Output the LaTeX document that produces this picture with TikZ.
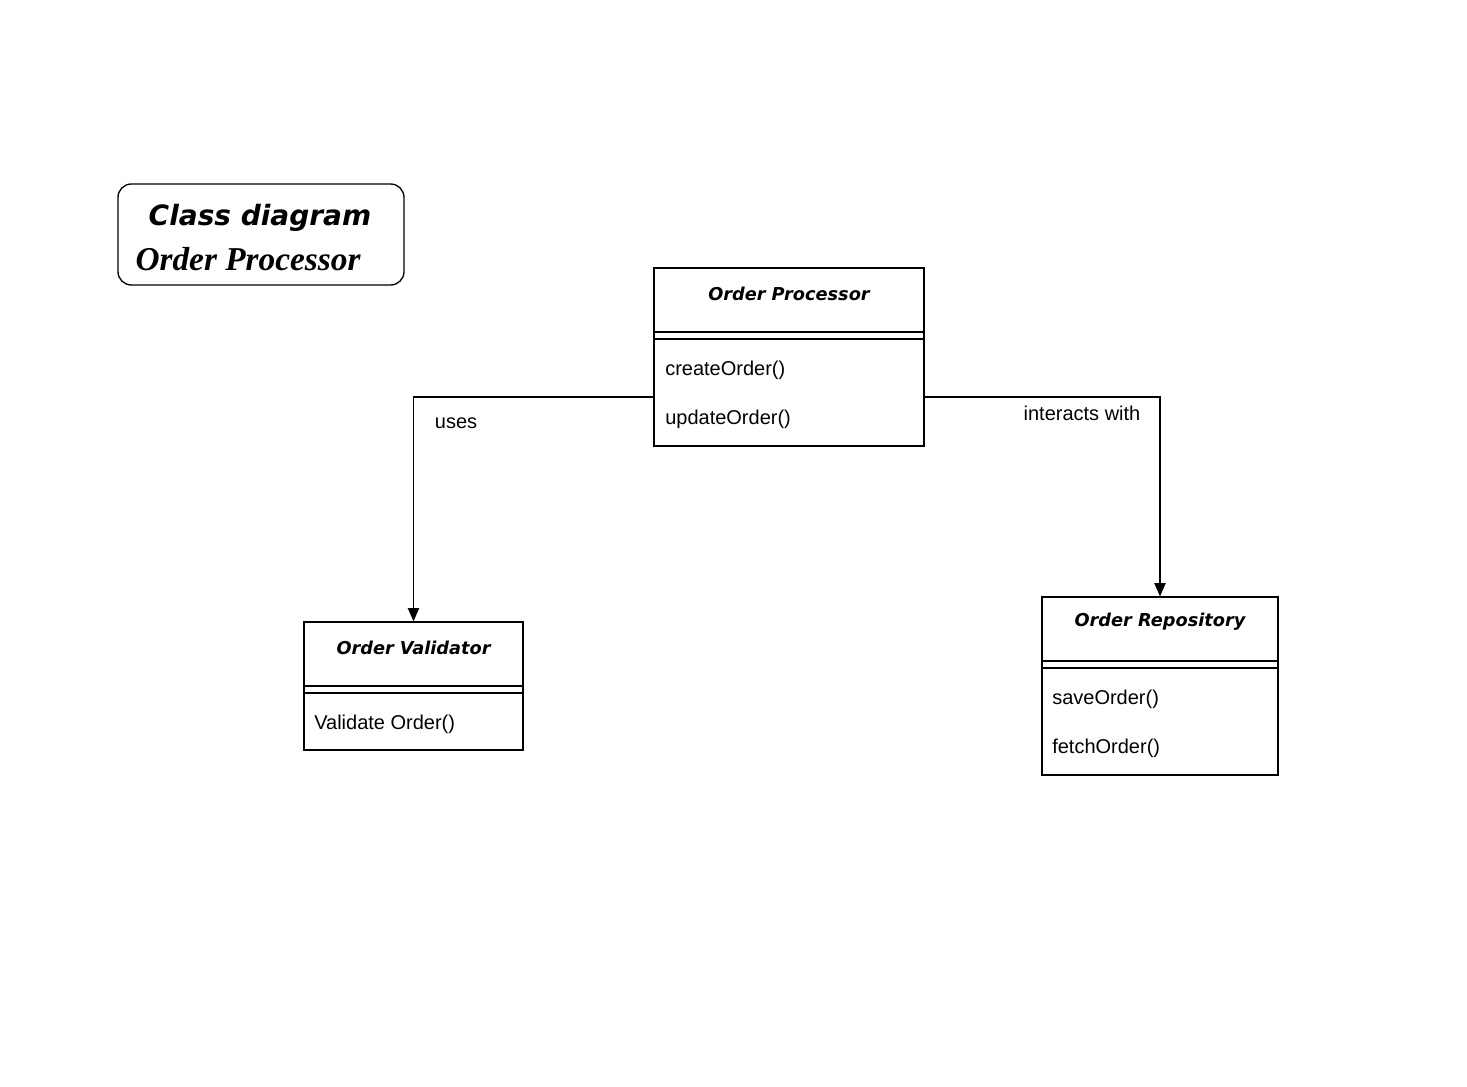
\documentclass[tikz,border=0pt]{standalone}
\usepackage{fontspec}
\setmainfont{Liberation Sans}
\newfontfamily\handfont{DejaVu Sans}
\newfontfamily\serifbold{Liberation Serif}
\usetikzlibrary{arrows.meta}
\definecolor{inkblack}{RGB}{0, 0, 0}

\tikzset{
    classbox/.style={draw=inkblack, line width=1pt, inner sep=0pt},
    classname/.style={font=\handfont\bfseries\itshape\fontsize{13.3}{15}\selectfont, inner sep=0pt},
    method/.style={anchor=west, font=\fontsize{15}{18}\selectfont, inner sep=0pt},
    assoc/.style={draw=inkblack, line width=1pt, -{Triangle[length=10pt, width=8.5pt]}},
    assoclabel/.style={font=\fontsize{15}{18}\selectfont, inner sep=0pt}
}

\begin{document}
\begin{tikzpicture}[x=0.75pt, y=-0.75pt]
            \useasboundingbox (0,0) rectangle (1467,1087);
            % Title
            \node[draw=inkblack, line width=1pt, rounded corners=10pt, minimum width=214.5pt, minimum height=75.75pt] (title) at (261,234.5) {};
            \node[font=\handfont\bfseries\itshape\fontsize{21}{24}\selectfont, inner sep=0pt] (titletop) at (260,218) {Class diagram};
            \node[font=\serifbold\bfseries\itshape\fontsize{25}{30}\selectfont, inner sep=0pt] (titlesub) at (248,259) {Order Processor};
            % Order Processor
            \node[classbox, minimum width=202.5pt, minimum height=133.5pt] (proc) at (789,357) {};
            \node[classname] (procname) at (789,294) {Order Processor};
            \draw[line width=1pt] (proc.west |- 0,332) -- (proc.east |- 0,332);
            \draw[line width=1pt] (proc.west |- 0,339) -- (proc.east |- 0,339);
            \node[method] (create) at (665,370) {createOrder()};
            \node[method] (update) at (665,419) {updateOrder()};
            % Order Validator
            \node[classbox, minimum width=164.25pt, minimum height=96pt] (valid) at (413.5,686) {};
            \node[classname] (validname) at (413.5,648) {Order Validator};
            \draw[line width=1pt] (valid.west |- 0,686) -- (valid.east |- 0,686);
            \draw[line width=1pt] (valid.west |- 0,693) -- (valid.east |- 0,693);
            \node[method] (validate) at (314,724) {Validate Order()};
            % Order Repository
            \node[classbox, minimum width=177pt, minimum height=133.5pt] (repo) at (1160,686) {};
            \node[classname] (reponame) at (1160,622) {Order Repository};
            \draw[line width=1pt] (repo.west |- 0,661) -- (repo.east |- 0,661);
            \draw[line width=1pt] (repo.west |- 0,668) -- (repo.east |- 0,668);
            \node[method] (save) at (1052,699) {saveOrder()};
            \node[method] (fetch) at (1052,748) {fetchOrder()};
            % Associations
            \coordinate (usesstart) at (proc.west |- 0,397);
            \coordinate (interstart) at (proc.east |- 0,397);
            \draw[assoc] (usesstart) -| (valid.north);
            \draw[assoc] (interstart) -| (repo.north);
            \node[assoclabel] (useslabel) at (456,423) {uses};
            \node[assoclabel] (interlabel) at (1082,413) {interacts with};
        \end{tikzpicture}
\end{document}
